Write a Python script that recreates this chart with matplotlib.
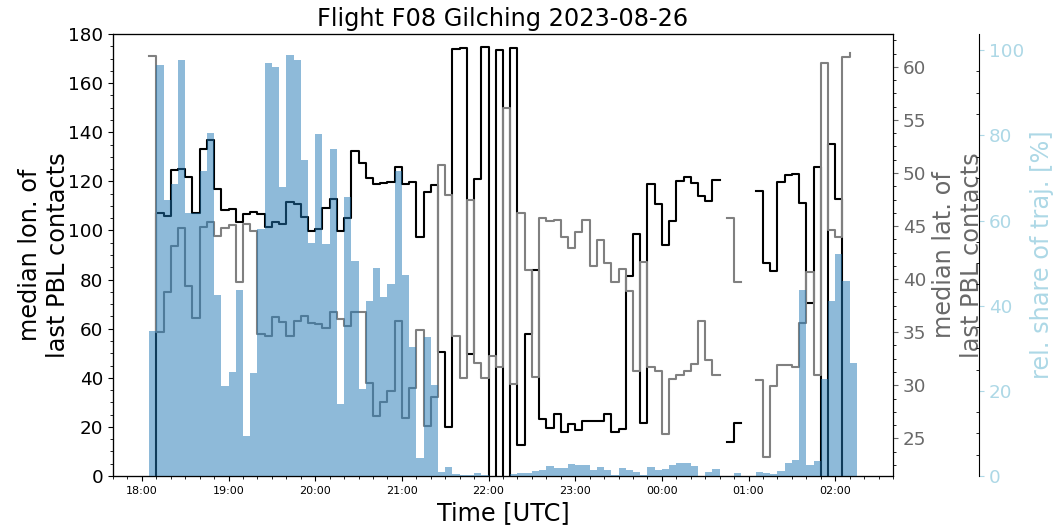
import numpy as np
import matplotlib
matplotlib.use('Agg')
import matplotlib.pyplot as plt
import matplotlib.dates as mdates
from matplotlib.ticker import MultipleLocator
import datetime as dt

nan = np.nan

# 5-minute bins starting 2023-08-26 18:05 UTC
bin_start = dt.datetime(2023, 8, 26, 18, 5)
bin_minutes = 5
n_bins = 98

# median longitude of last PBL contacts (deg)
lon_median = [
    -10, 107.1, 106.0, 124.6, 125.0, 121.9, 107.2, 133.2, 136.8, 116.7,
    108.3, 108.7, 103.6, 106.6, 107.6, 106.6, 101.3, 103.3, 102.6, 111.5,
    110.6, 105.6, 99.8, 100.6, 109.0, 112.9, 99.8, 105.2, 132.5, 127.6,
    121.2, 118.9, 119.4, 119.6, 126.0, 118.9, 119.6, 97.5, 115.8, 118.5,
    50.6, 20.1, 173.8, 174.4, 49.6, 121.0, 174.8, -172, 173.5, -172,
    174.2, 12.6, 57.8, 83.9, 23.4, 19.7, 25.1, 18.0, 21.1, 18.7,
    22.5, 22.5, 22.4, 25.2, 18.0, 19.0, 81.4, 98.6, 21.7, 118.9,
    110.8, 94.1, 104.0, 120.1, 121.9, 119.4, 114.2, 112.1, 120.5, nan,
    13.7, 21.4, nan, nan, 116.1, 86.6, 83.6, 119.6, 122.6, 123.0,
    111.0, 70.3, 125.7, -175, 135.2, 112.7, -170, -170,
]

# median latitude of last PBL contacts (deg)
lat_median = [
    61.0, 35.0, 38.8, 43.1, 44.8, 39.4, 36.3, 44.9, 45.4, 44.1,
    44.8, 45.1, 39.7, 45.2, 44.5, 34.8, 34.6, 36.4, 36.0, 34.6,
    36.1, 36.5, 35.9, 35.8, 35.4, 36.9, 36.2, 35.6, 36.9, 36.9,
    30.2, 27.1, 28.4, 29.5, 36.1, 26.9, 29.7, 35.2, 26.2, 28.9,
    50.8, 47.9, 34.6, 30.7, 47.5, 32.1, 30.7, 32.8, 31.7, 56.1,
    30.1, 46.2, 40.9, 30.8, 45.8, 45.5, 45.6, 44.0, 42.9, 44.4,
    45.6, 41.2, 43.7, 41.5, 39.7, 41.0, 38.9, 31.3, 41.6, 31.7,
    31.3, 25.4, 30.6, 31.0, 31.3, 32.0, 36.1, 32.4, 31.0, nan,
    45.8, 39.7, nan, nan, 30.5, 23.2, 29.9, 31.9, 31.9, 31.7,
    35.9, 40.7, 31.0, 60.4, 44.6, 44.0, 60.9, 61.3,
]

# relative share of trajectories (%)
share_pct = [
    34.0, 96.6, 64.9, 68.5, 97.8, 61.7, 61.7, 71.7, 80.5, 42.6,
    21.2, 24.5, 43.7, 9.5, 24.1, 57.9, 97.1, 96.1, 67.8, 98.9,
    97.8, 74.3, 54.8, 80.4, 54.4, 76.9, 16.9, 65.5, 50.6, 20.4,
    41.1, 48.9, 42.0, 45.2, 71.7, 47.1, 30.3, 4.3, 32.7, 21.3,
    0.9, 2.2, 0.5, 0.3, 0.35, 0.7, 0.3, 0.0, 0.0, 0.0,
    0.5, 0.6, 0.8, 1.2, 1.4, 2.4, 1.9, 1.9, 2.8, 2.7,
    2.5, 1.4, 2.1, 1.4, 0.3, 1.8, 1.4, 0.9, 0.3, 2.1,
    1.4, 1.6, 2.6, 3.0, 3.0, 2.4, 0.0, 0.9, 1.6, 0.0,
    0.1, 0.7, 0.0, 0.0, 0.9, 0.6, 0.5, 1.1, 3.0, 3.7,
    43.6, 2.7, 3.5, 22.7, 41.0, 52.1, 45.7, 26.6,
]

times = [bin_start + dt.timedelta(minutes=bin_minutes * i) for i in range(n_bins)]
tnum = mdates.date2num(times)
width = bin_minutes / 1440.0

FS_LABEL = 17.3
FS_TICK = 13.2

fig = plt.figure(figsize=(10.56, 5.29), dpi=100)
ax = fig.add_axes([113 / 1056, 1 - 476 / 529, 780 / 1056, 442 / 529])

ax.step(tnum, lon_median, where='post', color='black', lw=1.5)
ax.set_ylim(0, 180)
ax.set_xlim(mdates.date2num(dt.datetime(2023, 8, 26, 17, 40)),
            mdates.date2num(dt.datetime(2023, 8, 27, 2, 40)))

ax2 = ax.twinx()
ax2.step(tnum, lat_median, where='post', color='gray', lw=1.5)
ax2.set_ylim(21.45, 63.1)

ax3 = ax.twinx()
ax3.spines['right'].set_position(('axes', 1 + 86 / 780))
ax3.bar(tnum, share_pct, width=width, align='edge', color='#1f77b4',
        alpha=0.5, linewidth=0)
ax3.set_ylim(0, 103.8)

# x axis
ax.xaxis.set_major_locator(mdates.HourLocator())
ax.xaxis.set_major_formatter(mdates.DateFormatter('%H:%M'))
ax.xaxis.set_minor_locator(mdates.MinuteLocator(byminute=[10, 20, 30, 40, 50]))
ax.tick_params(axis='x', which='major', labelsize=8, length=3.5, width=0.8)
ax.tick_params(axis='x', which='minor', length=2, width=0.6)

# left axis
ax.yaxis.set_major_locator(MultipleLocator(20))
ax.yaxis.set_minor_locator(MultipleLocator(5))
ax.tick_params(axis='y', which='major', labelsize=FS_TICK, length=3.5, width=0.8)
ax.tick_params(axis='y', which='minor', length=2, width=0.6)

# lat axis
ax2.yaxis.set_major_locator(MultipleLocator(5))
ax2.yaxis.set_minor_locator(MultipleLocator(1.25))
ax2.tick_params(axis='y', which='major', labelsize=FS_TICK, colors='dimgray',
                length=3.5, width=0.8)
ax2.tick_params(axis='y', which='minor', length=2, width=0.6, color='black')

# share axis
ax3.yaxis.set_major_locator(MultipleLocator(20))
ax3.yaxis.set_minor_locator(MultipleLocator(5))
ax3.tick_params(axis='y', which='major', labelsize=FS_TICK, colors='lightblue',
                length=3.5, width=0.8)
ax3.tick_params(axis='y', which='minor', length=2, width=0.6, color='black',
                direction='in')

for a in (ax, ax2, ax3):
    for s in a.spines.values():
        s.set_linewidth(0.8)

ax.set_ylabel('median lon. of\nlast PBL contacts', fontsize=FS_LABEL, labelpad=-1.5)
ax2.set_ylabel('median lat. of\nlast PBL contacts', fontsize=FS_LABEL, color='dimgray')
ax3.set_ylabel('rel. share of traj. [%]', fontsize=FS_LABEL, color='lightblue')
ax.set_xlabel('Time [UTC]', fontsize=FS_LABEL)
ax.set_title('Flight F08 Gilching 2023-08-26', fontsize=FS_LABEL)

fig.savefig('out.png', dpi=100)
